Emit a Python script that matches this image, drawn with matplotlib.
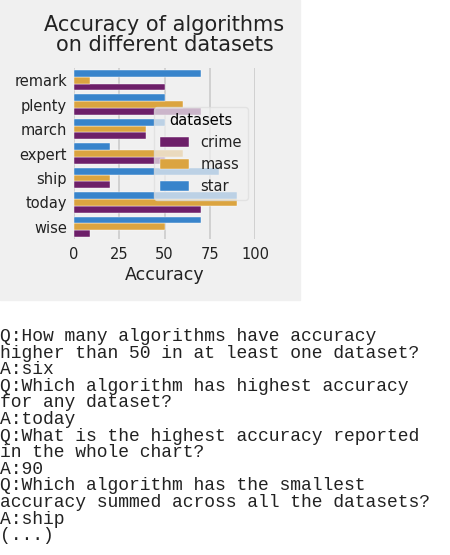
import numpy as np
import matplotlib.pyplot as plt
from matplotlib.patches import Rectangle

algorithms = ["remark", "plenty", "march", "expert", "ship", "today", "wise"]
datasets = ["crime", "mass", "star"]
crime = [50, 70, 40, 50, 20, 70, 9]
mass = [9, 60, 40, 60, 20, 90, 50]
star = [70, 50, 50, 20, 80, 90, 70]
colors = ["#6d1f69", "#dba440", "#3884cb"]

qa_lines = [
    "Q:How many algorithms have accuracy",
    "higher than 50 in at least one dataset?",
    "A:six",
    "Q:Which algorithm has highest accuracy",
    "for any dataset?",
    "A:today",
    "Q:What is the highest accuracy reported",
    "in the whole chart?",
    "A:90",
    "Q:Which algorithm has the smallest",
    "accuracy summed across all the datasets?",
    "A:ship",
    "(...)",
]

W, H = 450, 555
BG = "#f0f0f0"
fig = plt.figure(figsize=(W / 100, H / 100), dpi=100)
fig.patches.append(Rectangle((0, 1 - 300 / H), 300 / W, 300 / H,
                             transform=fig.transFigure, color=BG, zorder=-5))

# chart area (pixel coords measured from the top-left)
ax = fig.add_axes([74 / W, 1 - 239 / H, 181 / W, 171 / H])
ax.set_facecolor(BG)

y = np.arange(len(algorithms))
h = 0.28
for i, (name, vals) in enumerate(zip(datasets, [crime, mass, star])):
    ax.barh(y + (1 - i) * h, vals, height=h, color=colors[i], label=name,
            edgecolor="white", linewidth=0.3, zorder=2)

ax.set_ylim(len(algorithms) - 0.5, -0.5)
ax.set_yticks(y)
ax.set_yticklabels(algorithms)
ax.set_xlim(0, 100)
ax.set_xticks([0, 25, 50, 75, 100])
ax.grid(axis="x", color="#cbcbcb", lw=1.2, zorder=0)
ax.grid(axis="y", visible=False)
ax.set_axisbelow(True)
for sp in ax.spines.values():
    sp.set_visible(False)
ax.tick_params(axis="both", length=0, labelsize=10.5, colors="#222222")
ax.tick_params(axis="y", pad=5)
ax.tick_params(axis="x", pad=6)
ax.set_xlabel("Accuracy", fontsize=12.5, color="#222222", labelpad=3)
ax.set_title("Accuracy of algorithms\non different datasets", fontsize=15,
             color="#222222", pad=12, linespacing=1.05)

leg = ax.legend(title="datasets", loc="center right", fontsize=10.5,
                title_fontsize=10.5, facecolor=BG, framealpha=0.72,
                edgecolor="#dddddd", fancybox=True)
for t in leg.get_texts():
    t.set_color("#222222")

for i, s in enumerate(qa_lines):
    fig.text(0.0, 1 - (341 + 16.6 * i) / H, s, family="Liberation Mono",
             fontsize=13, va="baseline", ha="left", color="#222222")

fig.savefig("out.png", dpi=100)
